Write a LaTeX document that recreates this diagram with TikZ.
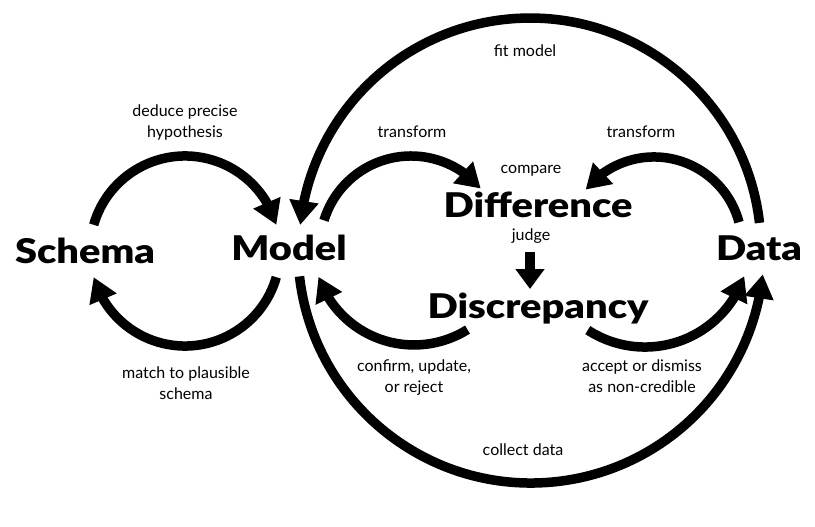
\documentclass[tikz,border=0pt]{standalone}
\usepackage{fontspec}
\setmainfont{Lato}
\newfontfamily\heavyfont{Lato Black}[FakeStretch=1.17]
\usetikzlibrary{arrows.meta,bending}
\begin{document}
\begin{tikzpicture}[x=1pt,y=-1pt,
  flow/.style={line width=9.5pt,-{Triangle[width=28pt,length=24pt]}},
  bigword/.style={font=\heavyfont\fontsize{34}{34}\selectfont,inner sep=0pt,anchor=base},
  lbl/.style={font=\fontsize{16}{21}\selectfont,align=center,inner sep=0pt,anchor=base}]
\useasboundingbox (0,0) rectangle (815,527);
% main words
\node[bigword] (schema) at (85,263) {Schema};
\node[bigword] (model) at (289,260) {Model};
\node[bigword] (diff) at (538,217) {Difference};
\node[bigword] (disc) at (538,318) {Discrepancy};
\node[bigword] (data) at (759,260) {Data};
% labels (base = baseline of last line)
\node[lbl] (ldeduce) at (185,138) {deduce precise\\hypothesis};
\node[lbl] (lmatch) at (186,399) {match to plausible\\schema};
\node[lbl] (lfit) at (525,57) {fit model};
\node[lbl] (ltl) at (412,138) {transform};
\node[lbl] (ltr) at (641,138) {transform};
\node[lbl] (lcompare) at (531,173) {compare};
\node[lbl] (ljudge) at (531,240) {judge};
\node[lbl] (lconfirm) at (414,392) {confirm, update,\\or reject};
\node[lbl] (laccept) at (642,392) {accept or dismiss\\as non-credible};
\node[lbl] (lcollect) at (523,455) {collect data};
% arc start points
\coordinate (sDeduce) at (93.7,224.8);
\coordinate (sMatch) at (276.3,277.2);
\coordinate (sTL) at (324,220.4);
\coordinate (sTR) at (739,222.2);
\coordinate (sConfirm) at (467.5,329.6);
\coordinate (sAccept) at (587.8,330.1);
\coordinate (sFit) at (759.5,222.9);
\coordinate (sCollect) at (299.5,276.4);
\coordinate (jTop) at (530,252);
\coordinate (jTip) at (530,289);
% connectors
\draw[flow] (sDeduce) arc[start angle=196,end angle=344,radius=95];
\draw[flow] (sMatch) arc[start angle=16,end angle=164,radius=95];
\draw[flow] (sTL) arc[start angle=197,end angle=320,radius=91];
\draw[flow] (sTR) arc[start angle=345,end angle=219,radius=88];
\draw[flow] (sConfirm) arc[start angle=58,end angle=161,radius=101];
\draw[flow] (sAccept) arc[start angle=123,end angle=19,radius=105];
\draw[flow] (sFit) arc[start angle=353.5,end angle=186,radius=231];
\draw[flow] (sCollect) arc[start angle=173.5,end angle=6,radius=233];
\draw[line width=9.5pt,-{Triangle[width=28pt,length=20pt]}] (jTop) -- (jTip);
\end{tikzpicture}
\end{document}
